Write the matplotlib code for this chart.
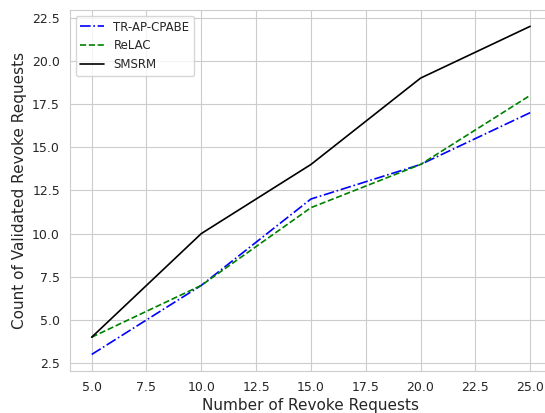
import matplotlib
matplotlib.use("Agg")
import matplotlib.pyplot as plt
import seaborn as sns

requests  = [5, 10, 15, 20, 25]
tr_ap     = [3, 7, 12, 14, 17]
relac     = [4, 7, 11.5, 14, 18]
smsrm     = [4, 10, 14, 19, 22]

sns.set_style("whitegrid")

fig, ax = plt.subplots(figsize=(5.45, 4.13), dpi=100)
fig.subplots_adjust(left=0.128, right=1.013, top=0.976, bottom=0.102)

ax.plot(requests, tr_ap, color="blue", linestyle="-.", linewidth=1.2, label="TR-AP-CPABE")
ax.plot(requests, relac, color="green", linestyle="--", linewidth=1.2, label="ReLAC")
ax.plot(requests, smsrm, color="black", linestyle="-", linewidth=1.2, label="SMSRM")

ax.set_xlabel("Number of Revoke Requests", fontsize=11, labelpad=3)
ax.set_ylabel("Count of Validated Revoke Requests", fontsize=11)
ax.tick_params(labelsize=9)
ax.legend(loc="upper left", fontsize=8.5)

fig.savefig("out.png", dpi=100)
